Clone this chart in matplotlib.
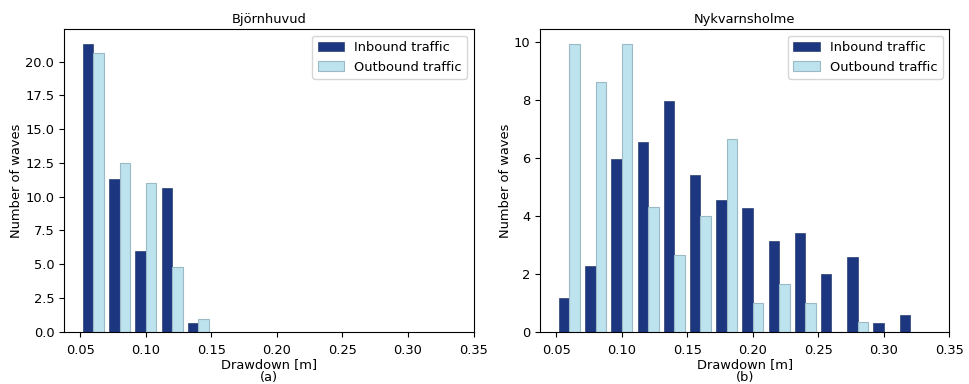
import numpy as np
import matplotlib
matplotlib.use("Agg")
import matplotlib.pyplot as plt

# bin edges (0.02 m bins)
edges_a = np.round(np.arange(0.05, 0.1501, 0.02), 3)
edges_b = np.round(np.arange(0.05, 0.3301, 0.02), 3)

# density values
inbound_a = [21.31, 11.31, 6.0, 10.67, 0.67]
outbound_a = [20.67, 12.5, 11.04, 4.79, 0.96]

inbound_b = [1.15, 2.28, 5.97, 6.53, 7.96, 5.40, 4.54, 4.25, 3.13, 3.40, 1.99, 2.57, 0.29, 0.57]
outbound_b = [9.94, 8.61, 9.94, 4.30, 2.64, 3.98, 6.63, 1.00, 1.66, 1.00, 0.0, 0.33, 0.0, 0.0]

titles = ["Björnhuvud", "Nykvarnsholme"]
sublabels = ["(a)", "(b)"]

dark = "#1c3680"
light = "#bde3ef"
fs = 9.4

fig = plt.figure(figsize=(9.69, 3.84), dpi=100)
ax1 = fig.add_axes([64 / 969, 1 - 331.7 / 384, 409.5 / 969, 302.4 / 384])
ax2 = fig.add_axes([540 / 969, 1 - 331.7 / 384, 409.3 / 969, 302.4 / 384])


def draw(ax, edges, inb, outb, title, sub):
    w = edges[1] - edges[0]
    left = edges[:-1]
    bw = 0.4 * w
    ax.bar(left + 0.1 * w, inb, width=bw, align="edge", color=dark,
           edgecolor="#2a3f70", linewidth=0.5, label="Inbound traffic")
    ax.bar(left + 0.5 * w, outb, width=bw, align="edge", color=light,
           edgecolor="#9bbac6", linewidth=0.8, label="Outbound traffic")
    ax.set_xlim(0.0375, 0.35)
    ax.set_xticks([0.05, 0.10, 0.15, 0.20, 0.25, 0.30, 0.35])
    ax.set_xticklabels(["%.2f" % t for t in ax.get_xticks()])
    ax.set_title(title, fontsize=fs, pad=4.5)
    ax.set_xlabel("Drawdown [m]\n" + sub, fontsize=fs, linespacing=1.05, labelpad=1)
    ax.set_ylabel("Number of waves", fontsize=fs, labelpad=1.5)
    ax.tick_params(labelsize=fs)
    ax.tick_params(axis="x", pad=5)
    ax.legend(loc="upper right", fontsize=fs)


draw(ax1, edges_a, inbound_a, outbound_a, titles[0], sublabels[0])
ax1.set_ylim(0, 22.4)
ax1.set_yticks(np.arange(0, 20.1, 2.5))
ax1.set_yticklabels(["%.1f" % t for t in np.arange(0, 20.1, 2.5)])

draw(ax2, edges_b, inbound_b, outbound_b, titles[1], sublabels[1])
ax2.set_ylim(0, 10.43)
ax2.set_yticks([0, 2, 4, 6, 8, 10])

fig.savefig("out.png", dpi=100)
